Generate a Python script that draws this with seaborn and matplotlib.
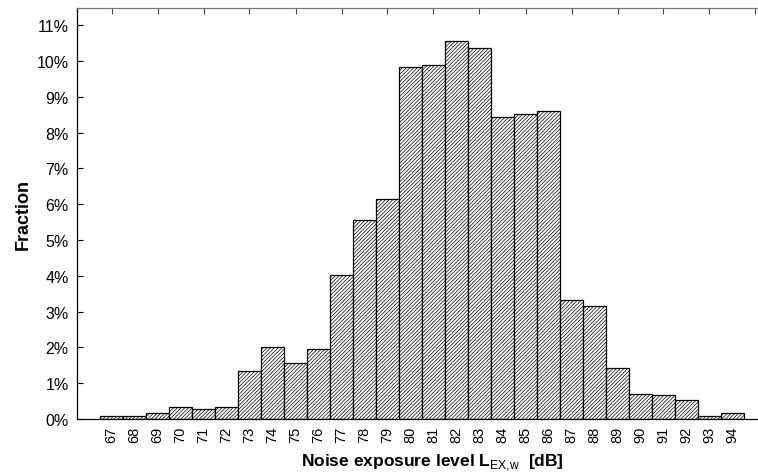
import numpy as np
import matplotlib
matplotlib.use("Agg")
import matplotlib.pyplot as plt
import seaborn as sns
from matplotlib.ticker import PercentFormatter

# ============================================================
# DATA
# ============================================================

levels = [str(v) for v in range(67, 95)]
fraction = [0.0007, 0.0007, 0.0016, 0.0034, 0.0027, 0.0034, 0.0133, 0.0200,
            0.0156, 0.0196, 0.0402, 0.0555, 0.0614, 0.0982, 0.0988, 0.1056,
            0.1035, 0.0844, 0.0851, 0.0859, 0.0333, 0.0315, 0.0142, 0.0071,
            0.0068, 0.0053, 0.0007, 0.0016]
y_ticks = np.arange(0, 0.111, 0.01)
top_ticks = np.arange(0, 29, 2)

# ============================================================
# STYLE
# ============================================================

sns.set_style("ticks")
plt.rcParams['font.family'] = ['Liberation Sans', 'DejaVu Sans']
plt.rcParams['text.color'] = 'black'
plt.rcParams['axes.labelcolor'] = 'black'
plt.rcParams['mathtext.fontset'] = 'custom'
plt.rcParams['mathtext.rm'] = 'Liberation Sans'
plt.rcParams['mathtext.bf'] = 'Liberation Sans:bold'
plt.rcParams['hatch.linewidth'] = 0.5
plt.rcParams['hatch.color'] = '#222222'

fig = plt.figure(figsize=(7.58, 4.77), dpi=100)
ax = fig.add_axes([77 / 758, 57 / 477, 690 / 758, 411 / 477])

sns.barplot(x=levels, y=fraction, color='white', edgecolor='black',
            linewidth=0.9, width=1.0, saturation=1, ax=ax)
for bar in ax.patches:
    bar.set_hatch('/////////')

ax.set_xlim(-1.5, 28.5)
ax.set_ylim(0, 0.1148)
ax.set_yticks(y_ticks)
ax.yaxis.set_major_formatter(PercentFormatter(1, decimals=0))

ax.tick_params(axis='y', direction='in', length=4, width=0.8,
               labelsize=11.5, pad=6, colors='black')
ax.tick_params(axis='x', length=0, labelsize=10.5, pad=5, labelrotation=90,
               labelcolor='black')

# small ticks along the top edge
top = ax.secondary_xaxis('top')
top.set_xticks(top_ticks)
top.tick_params(direction='in', length=4, width=0.8, labeltop=False,
                color='#444444')
top.spines['top'].set_color('#777777')

for side in ['left', 'bottom']:
    ax.spines[side].set_color('black')
    ax.spines[side].set_linewidth(0.9)
ax.spines['top'].set_visible(True)
ax.spines['top'].set_color('#777777')
ax.spines['right'].set_visible(False)

ax.set_ylabel("Fraction", fontsize=13, fontweight='bold', color='black')
ax.set_xlabel(r"Noise exposure level $\mathbf{L}_{\mathrm{EX{,}w}}$  [dB]",
              fontsize=12.5, fontweight='bold', color='black')
ax.yaxis.set_label_coords(-0.065, 0.5)
ax.xaxis.set_label_coords(0.515, -0.078)

fig.savefig("out.png", dpi=100, facecolor='white')
